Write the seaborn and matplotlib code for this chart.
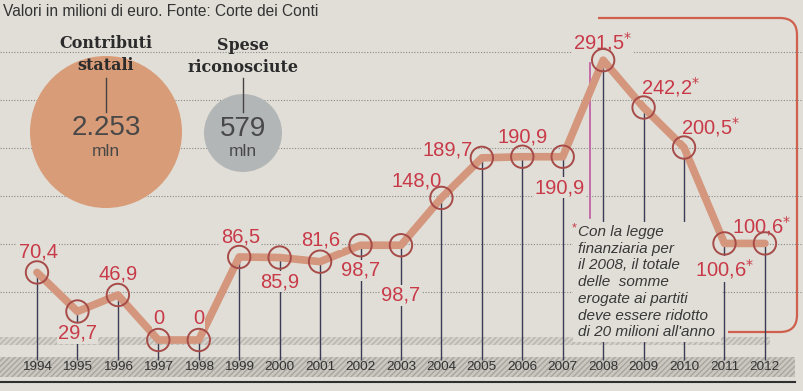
import matplotlib
matplotlib.use('Agg')
import matplotlib.pyplot as plt
import matplotlib.transforms as mtransforms
from matplotlib.patches import Circle, Rectangle, PathPatch
from matplotlib.path import Path
import seaborn as sns

plt.rcParams['font.family'] = ['Liberation Sans', 'DejaVu Sans']

# Data (milioni di euro)
years = list(range(1994, 2013))
values = [70.4, 29.7, 46.9, 0, 0, 86.5, 85.9, 81.6, 98.7, 98.7,
          148.0, 189.7, 190.9, 190.9, 291.5, 242.2, 200.5, 100.6, 100.6]
starred_from = 2008
contributi_statali = 2253
spese_riconosciute = 579
note_lines = ['Con la legge', 'finanziaria per', 'il 2008, il totale',
              'delle  somme', 'erogate ai partiti', 'deve essere ridotto',
              "di 20 milioni all'anno"]

# label offsets in pixels (dx, dy) relative to each point
label_offsets = [(1, 20), (0, -22), (0, 21), (0, 22), (0, 22), (1, 20), (0, -24),
                 (1, 22), (0, -25), (0, -50), (-25, 17), (-34, 8), (0, 20),
                 (-3, -31), (-1, 18), (27, 20), (27, 20), (0, -26), (-3, 17)]

BG = '#e1ded7'
RED = '#c83a48'
LINE = '#d4967c'
RING = '#a64b48'
INK = '#333333'

W, H = 804, 391
DX = 40.44      # pixels per year
DY = 0.96       # pixels per million
Y0 = 340        # pixel row of zero

fig = plt.figure(figsize=(W / 100, H / 100), dpi=100)
fig.patch.set_facecolor(BG)

# pixel overlay (background decorations)
ax2 = fig.add_axes([0, 0, 1, 1])
ax2.set_xlim(0, W)
ax2.set_ylim(H, 0)
ax2.axis('off')
ax2.set_zorder(0)
px = ax2.transData

# data axes
ax = fig.add_axes([0, 0, 1, 1])
ax.set_zorder(1)
ax.patch.set_alpha(0)
ax.set_xlim(years[0] - 37 / DX, years[0] + (W - 37) / DX)
ax.set_ylim(-(H - Y0) / DY, Y0 / DY)
for s in ax.spines.values():
    s.set_visible(False)
ax.set_xticks([])
ax.set_yticks([50, 100, 150, 200, 250, 300])
ax.tick_params(left=False, labelleft=False)
ax.set_axisbelow(True)
ax.grid(axis='y', linestyle=(0, (1, 1.5)), color='#8a8a8a', linewidth=0.8)

# bands at the bottom
ax2.add_patch(Rectangle((0, 337), 770, 8, facecolor='#d5d2cc', hatch='//////',
                        edgecolor='#b8b5af', linewidth=0))
ax2.add_patch(Rectangle((0, 357), 795, 20, facecolor='#cbc8c2', hatch='//////',
                        edgecolor='#a9a6a0', linewidth=0))
ax2.plot([0, 795], [382, 382], color='#2f2f2f', lw=1.5)

# title
ax2.text(3, 11, 'Valori in milioni di euro. Fonte: Corte dei Conti',
         ha='left', va='center', fontsize=11.2, color=INK)

# bracket around 2008-2012
verts = [(598, 18), (780, 18), (797, 18), (797, 35), (797, 315),
         (797, 332), (780, 332), (728, 332)]
codes = [Path.MOVETO, Path.LINETO, Path.CURVE3, Path.CURVE3, Path.LINETO,
         Path.CURVE3, Path.CURVE3, Path.LINETO]
ax2.add_patch(PathPatch(Path(verts, codes), facecolor='none',
                        edgecolor='#d0604e', lw=1.6))
ax2.plot([590, 590], [63, 218], color='#c058a0', lw=1.2)

# totals circles
ax.add_patch(Circle((106, 132), 76, transform=px, facecolor='#d99c78',
                    edgecolor='none', zorder=1))
ax.add_patch(Circle((243, 133), 39, transform=px, facecolor='#b3b6b7',
                    edgecolor='none', zorder=1))
serif = dict(family='DejaVu Serif', fontweight='bold', fontsize=11.5,
             color='#2b2b2b', ha='center', va='center', zorder=5)
ax.text(106, 44, 'Contributi', transform=px, **serif)
ax.text(106, 65, 'statali', transform=px, **serif)
ax.text(243, 45, 'Spese', transform=px, **serif)
ax.text(243, 67, 'riconosciute', transform=px, **serif)
ax.plot([106, 106], [78, 112], transform=px, color='#444444', lw=1, zorder=5)
ax.plot([243, 243], [78, 112], transform=px, color='#444444', lw=1, zorder=5)
ax.text(106, 128, f'{contributi_statali:,}'.replace(',', '.'), transform=px,
        ha='center', va='center', fontsize=20, color='#484848', zorder=5)
ax.text(106, 152, 'mln', transform=px, ha='center', va='center',
        fontsize=12.5, color='#484848', zorder=5)
ax.text(243, 129, f'{spese_riconosciute}', transform=px, ha='center',
        va='center', fontsize=20, color='#484848', zorder=5)
ax.text(243, 152, 'mln', transform=px, ha='center', va='center',
        fontsize=12.5, color='#484848', zorder=5)

# footnote mask + lines (hides drop lines behind the note)
ax.add_patch(Rectangle((573, 222), 148, 120, transform=px, facecolor=BG,
                       edgecolor='none', zorder=2.5))
for i, line in enumerate(note_lines):
    ax.text(578, 232 + i * 16.7, line, transform=px, ha='left', va='center',
            style='italic', fontsize=11, color='#383838', zorder=2.6)
ax.text(574, 228, '*', transform=px, ha='center', va='center', fontsize=9,
        color=RED, zorder=6)

# drop lines, line and rings
ax.vlines(years, -20.5, values, colors='#3d3a55', lw=1.0, zorder=2)
sns.lineplot(x=years, y=values, ax=ax, color=LINE, linewidth=5.5, zorder=3,
             solid_capstyle='round', solid_joinstyle='round')
ax.scatter(years, values, s=260, facecolors='none', edgecolors=RING,
           linewidths=1.4, zorder=4)

for yr, v, (dx, dy) in zip(years, values, label_offsets):
    txt = '0' if v == 0 else f'{v:.1f}'.replace('.', ',')
    if yr >= starred_from:
        txt += '$^{*}$'
    ax.annotate(txt, (yr, v), xytext=(dx, dy), textcoords='offset pixels',
                ha='center', va='center', fontsize=14.5, color=RED, zorder=3.5,
                bbox=dict(boxstyle='square,pad=0.05', fc=BG, ec='none'))

# year labels
blend = mtransforms.blended_transform_factory(ax.transData, fig.transFigure)
for yr in years:
    ax.text(yr, 1 - 367 / H, str(yr), transform=blend, ha='center',
            va='center', fontsize=9.7, color='#333333', zorder=6)

fig.savefig('out.png', dpi=100, facecolor=BG)
